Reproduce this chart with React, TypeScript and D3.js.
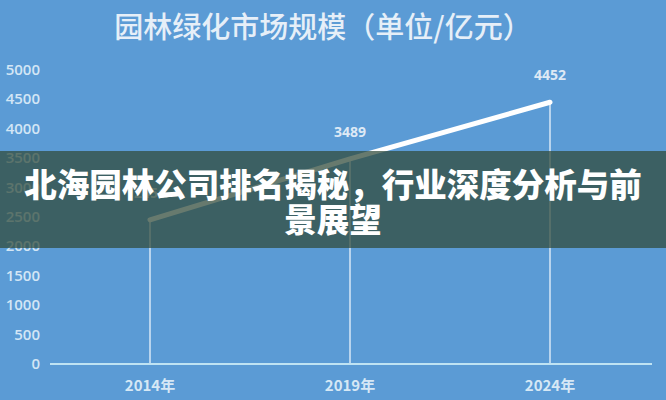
import React from "react";
import * as d3 from "d3";

const categories = ["2014年", "2019年", "2024年"];
const values = [2451, 3489, 4452];
const yTicks = [0, 500, 1000, 1500, 2000, 2500, 3000, 3500, 4000, 4500, 5000];
const title = "园林绿化市场规模（单位/亿元）";
const bannerLines = ["北海园林公司排名揭秘，行业深度分析与前", "景展望"];

const W = 666;
const H = 400;

export default function App() {
  const x = d3.scalePoint<string>().domain(categories).range([150, 550]);
  const y = d3.scaleLinear().domain([0, 5000]).range([364, 70]);
  const pts: [number, number][] = categories.map((c, i) => [x(c)!, y(values[i])]);
  const line = d3.line()(pts) || "";
  const numFont = "'Open Sans', 'Noto Sans', sans-serif";
  const cjk = "'Noto Sans CJK SC', 'Noto Sans', sans-serif";
  return (
    <svg width={W} height={H} style={{ position: "fixed", left: 0, top: 0 }}>
      <rect x={0} y={0} width={W} height={H} fill="#5b9bd5" />
      <text x={323} y={38} textAnchor="middle" fill="#e6eff8" fontSize={29} fontWeight={500} fontFamily={cjk}>
        {title}
      </text>
      {yTicks.map((t) => (
        <text key={t} x={40} y={y(t) + 5} textAnchor="end" fill="#d3e6f5" fontSize={15} fontWeight={600} fontFamily={numFont}>
          {t}
        </text>
      ))}
      {pts.map(([px, py], i) => (
        <line key={i} x1={px} x2={px} y1={py} y2={y(0)} stroke="#eef5fc" strokeWidth={1.5} opacity={0.85} />
      ))}
      <line x1={50} x2={652} y1={y(0)} y2={y(0)} stroke="#bfe3f3" strokeWidth={2} />
      <path d={line} fill="none" stroke="#ffffff" strokeWidth={5} strokeLinecap="round" />
      {pts.map(([px, py], i) => (
        <text key={i} x={px} y={py - 22} textAnchor="middle" fill="#dde9f5" fontSize={14} fontWeight={700} fontFamily={numFont}>
          {values[i]}
        </text>
      ))}
      {categories.map((c) => (
        <text key={c} x={x(c)!} y={391} textAnchor="middle" fill="#d6e8f5" fontSize={15} fontWeight={600} fontFamily={cjk}>
          {c}
        </text>
      ))}
      <rect x={0} y={151} width={W} height={97} fill="rgb(50,75,60)" opacity={0.74} />
      {bannerLines.map((l, i) => (
        <text key={i} x={333} y={197 + i * 35} textAnchor="middle" fill="#ffffff" fontSize={32.5} fontWeight={900} fontFamily={cjk}>
          {l}
        </text>
      ))}
    </svg>
  );
}
